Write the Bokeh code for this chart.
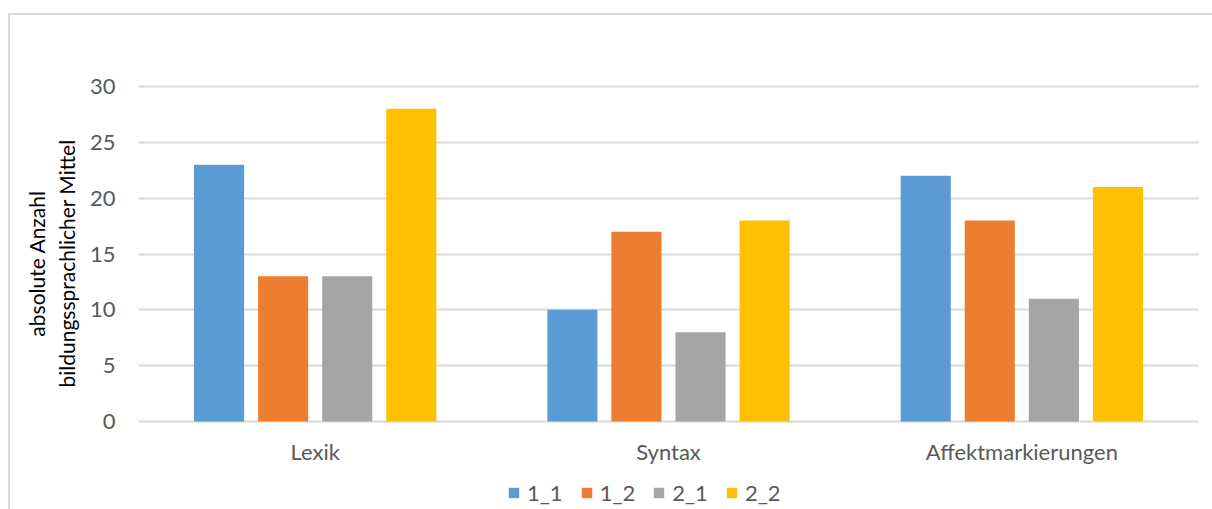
from bokeh.plotting import figure
from bokeh.models import ColumnDataSource, FactorRange, Legend, LegendItem, FixedTicker
from bokeh.transform import dodge
from bokeh.core.properties import value
from bokeh.embed import file_html
from bokeh.resources import INLINE

categories = ["Lexik", "Syntax", "Affektmarkierungen"]
series_names = ["1_1", "1_2", "2_1", "2_2"]
s_1_1 = [23, 10, 22]
s_1_2 = [13, 17, 18]
s_2_1 = [13, 8, 11]
s_2_2 = [28, 18, 21]
y_ticks = [0, 5, 10, 15, 20, 25, 30]
colors = ["#5B9BD5", "#ED7D31", "#A5A5A5", "#FFC000"]

source = ColumnDataSource(dict(cat=categories, s11=s_1_1, s12=s_1_2, s21=s_2_1, s22=s_2_2,
                               zero=[0] * len(categories)))

FONT = "Lato"
# layout: value axis 0..30 maps to pixel rows 421..86; frame extended to hold labels & legend
k = (421 - 86) / 30.0
y_lo = -(511 - 421) / k
y_hi = 30 + (86 - 15) / k

p = figure(x_range=FactorRange(*categories, range_padding=0), y_range=(y_lo, y_hi),
           width=1204, height=496, output_backend="svg", toolbar_location=None,
           x_axis_location=None,
           min_border_left=128, min_border_right=16, min_border_top=0, min_border_bottom=0,
           margin=(13, 0, 0, 8),
           styles={"border-left": "2px solid #d9d9d9", "border-top": "2px solid #d9d9d9"})
p.outline_line_color = None

offsets = [-0.272, -0.0907, 0.0907, 0.272]
cols = ["s11", "s12", "s21", "s22"]
renderers = []
for off, c, col in zip(offsets, cols, colors):
    r = p.vbar(x=dodge("cat", off, range=p.x_range), top=c, width=0.1418, source=source,
               fill_color=col, line_color=None)
    renderers.append(r)

# category labels under the baseline
p.text(x="cat", y="zero", text="cat", source=source, text_align="center", text_baseline="middle",
       y_offset=30, text_font=value(FONT), text_font_size="22px", text_color="#595959")

p.yaxis.ticker = FixedTicker(ticks=y_ticks)
p.yaxis.axis_line_color = None
p.yaxis.major_tick_line_color = None
p.yaxis.minor_tick_line_color = None
p.yaxis.major_label_text_font = FONT
p.yaxis.major_label_text_font_size = "22px"
p.yaxis.major_label_text_color = "#595959"
p.yaxis.major_label_standoff = 17
p.yaxis.axis_label = "absolute Anzahl\nbildungssprachlicher Mittel"
p.yaxis.axis_label_text_font = FONT
p.yaxis.axis_label_text_font_size = "21px"
p.yaxis.axis_label_text_font_style = "normal"
p.yaxis.axis_label_text_color = "#000000"
p.yaxis.axis_label_text_line_height = 1.2
p.yaxis.axis_label_standoff = 8

p.ygrid.grid_line_color = "#d9d9d9"
p.ygrid.grid_line_width = 2
p.xgrid.grid_line_color = None

legend = Legend(items=[LegendItem(label=n, renderers=[r]) for n, r in zip(series_names, renderers)],
                orientation="horizontal", location=(369, 5),
                label_text_font=FONT, label_text_font_size="22px", label_text_color="#595959",
                glyph_width=13, glyph_height=13, spacing=17, label_standoff=7,
                border_line_color=None, background_fill_alpha=0, margin=0, padding=0)
p.add_layout(legend, "center")

open("out.html", "w").write(file_html(p, INLINE))
